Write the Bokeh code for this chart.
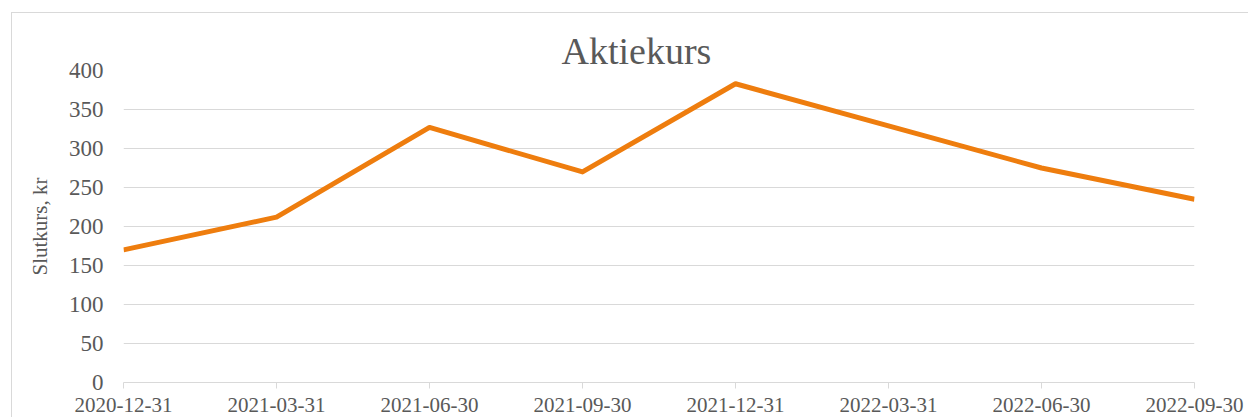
from bokeh.plotting import figure
from bokeh.models import Range1d, FixedTicker
from bokeh.embed import file_html
from bokeh.resources import INLINE

# data
dates = ["2020-12-31", "2021-03-31", "2021-06-30", "2021-09-30",
         "2021-12-31", "2022-03-31", "2022-06-30", "2022-09-30"]
closing = [170, 212, 327, 270, 383, 329, 275, 235]
y_ticks = [0, 50, 100, 150, 200, 250, 300, 350, 400]

xs = list(range(len(dates)))

FONT = "Liberation Serif"
TXT = "#595959"
GRID = "#d9d9d9"

p = figure(width=1248, height=417, output_backend="svg", toolbar_location=None,
           x_range=Range1d(0, len(dates) - 1), y_range=Range1d(0, 400),
           min_border_left=123, min_border_right=54, min_border_top=70, min_border_bottom=35)

p.border_fill_color = None
p.background_fill_color = "white"
p.outline_line_color = None
p.styles = {"box-shadow": "inset 11px 12px 0 0 #ffffff, inset 12px 13px 0 0 #d9d9d9"}

p.title.text = "Aktiekurs"
p.title.align = "left"
p.title.offset = 438
p.title.text_font = FONT
p.title.text_font_size = "38px"
p.title.text_font_style = "normal"
p.title.text_color = TXT
p.title.standoff = -2

p.line(xs, closing, line_color="#EE7D0E", line_width=5, line_join="round", line_cap="butt")

# x axis
xa = p.xaxis[0]
xa.ticker = FixedTicker(ticks=xs)
xa.major_label_overrides = {i: d for i, d in enumerate(dates)}
xa.axis_line_color = GRID
xa.major_tick_line_color = GRID
xa.major_tick_out = 6
xa.major_tick_in = 0
xa.minor_tick_line_color = None
xa.major_label_text_font = FONT
xa.major_label_text_font_size = "21px"
xa.major_label_text_color = TXT
xa.major_label_standoff = 9

# y axis
ya = p.yaxis[0]
ya.ticker = FixedTicker(ticks=y_ticks)
ya.axis_line_color = None
ya.major_tick_line_color = None
ya.minor_tick_line_color = None
ya.major_tick_out = 0
ya.major_tick_in = 0
ya.major_label_standoff = 20
ya.major_label_text_font = FONT
ya.major_label_text_font_size = "23px"
ya.major_label_text_color = TXT
ya.axis_label = "Slutkurs, kr"
ya.axis_label_text_font = FONT
ya.axis_label_text_font_size = "21px"
ya.axis_label_text_font_style = "normal"
ya.axis_label_text_color = TXT
ya.axis_label_standoff = 14

p.xgrid.grid_line_color = None
p.ygrid.grid_line_color = GRID
p.ygrid.grid_line_width = 1
p.ygrid.ticker = FixedTicker(ticks=y_ticks)

open("out.html", "w").write(file_html(p, INLINE))
